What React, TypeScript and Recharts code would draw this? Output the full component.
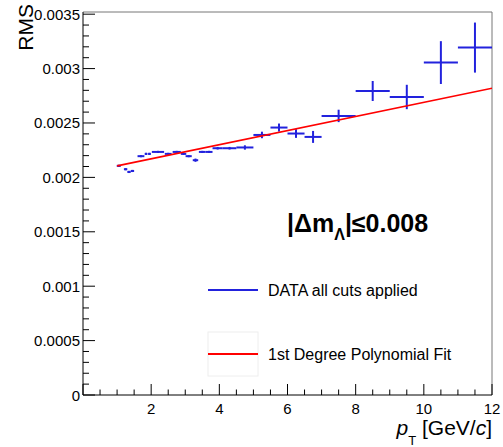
import { ComposedChart, XAxis, YAxis, Scatter, ErrorBar, Line, ReferenceLine } from "recharts";

// bin centers (GeV/c) and half widths
const ptCenters = [1.05, 1.25, 1.35, 1.45, 1.7, 1.85, 1.95, 2.2, 2.5, 2.75, 2.95, 3.1, 3.3, 3.5, 3.7, 3.95, 4.3, 4.75, 5.25, 5.75, 6.25, 6.75, 7.5, 8.5, 9.5, 10.5, 11.5];
const ptHalfWidths = [0.06, 0.05, 0.05, 0.05, 0.1, 0.04, 0.04, 0.18, 0.1, 0.12, 0.08, 0.09, 0.08, 0.1, 0.1, 0.15, 0.2, 0.25, 0.25, 0.25, 0.25, 0.25, 0.5, 0.5, 0.5, 0.5, 0.5];
const rmsValues = [0.002106, 0.002075, 0.00205, 0.002059, 0.002195, 0.002216, 0.002216, 0.002234, 0.002216, 0.002234, 0.002216, 0.002195, 0.002158, 0.002234, 0.002234, 0.002268, 0.002268, 0.002275, 0.00239, 0.002458, 0.002403, 0.002372, 0.002565, 0.002794, 0.002739, 0.003055, 0.003193];
const rmsErrors = [0.00001, 0.00001, 0.00001, 0.00001, 0.00001, 0.00001, 0.00001, 0.00001, 0.00001, 0.00001, 0.00001, 0.00001, 0.000015, 0.00001, 0.00001, 0.000012, 0.000012, 0.00002, 0.00003, 0.000037, 0.00004, 0.000055, 0.000057, 0.000092, 0.000112, 0.000197, 0.00023];

// 1st degree polynomial fit, drawn from 1 to 12 GeV/c
const fitPt = [1, 12];
const fitRms = [0.002106, 0.002819];

const xTicks = [0, 0.5, 1, 1.5, 2, 2.5, 3, 3.5, 4, 4.5, 5, 5.5, 6, 6.5, 7, 7.5, 8, 8.5, 9, 9.5, 10, 10.5, 11, 11.5, 12];
const yTicks = [0, 0.0001, 0.0002, 0.0003, 0.0004, 0.0005, 0.0006, 0.0007, 0.0008, 0.0009, 0.001, 0.0011, 0.0012, 0.0013, 0.0014, 0.0015, 0.0016, 0.0017, 0.0018, 0.0019, 0.002, 0.0021, 0.0022, 0.0023, 0.0024, 0.0025, 0.0026, 0.0027, 0.0028, 0.0029, 0.003, 0.0031, 0.0032, 0.0033, 0.0034, 0.0035];
const yLabels: Record<number, string> = { 0: "0", 5: "0.0005", 10: "0.001", 15: "0.0015", 20: "0.002", 25: "0.0025", 30: "0.003", 35: "0.0035" };

const points = ptCenters.map((x, i) => ({ x, y: rmsValues[i], xerr: ptHalfWidths[i], yerr: rmsErrors[i] }));
const fitData = fitPt.map((x, i) => ({ x, y: fitRms[i] }));

const FONT = "'Liberation Sans', Arial, Helvetica, sans-serif";
const BLUE = "#2222dd";
const PLOT_BOTTOM = 395;
const PLOT_LEFT = 83;

const XTick = (props: any) => {
  const { x, payload } = props;
  const v = payload.value;
  const major = Math.abs(v / 2 - Math.round(v / 2)) < 1e-6;
  const y = PLOT_BOTTOM;
  return (
    <g>
      <line x1={x} y1={y} x2={x} y2={y - (major ? 11 : 5.5)} stroke="#000" />
      {major && v !== 0 && (
        <text x={x} y={y + 19} textAnchor="middle" fontSize={15} fontFamily={FONT} fill="#000">
          {v}
        </text>
      )}
    </g>
  );
};

const YTick = (props: any) => {
  const { y, payload } = props;
  const x = PLOT_LEFT;
  const idx = Math.round(payload.value / 0.0001);
  const major = idx % 5 === 0;
  return (
    <g>
      <line x1={x} y1={y} x2={x + (major ? 12 : 6)} y2={y} stroke="#000" />
      {major && (
        <text x={x - 3} y={y + 5.5} textAnchor="end" fontSize={15} fontFamily={FONT} fill="#000">
          {yLabels[idx]}
        </text>
      )}
    </g>
  );
};

export default function App() {
  return (
    <div style={{ position: "absolute", left: 0, top: 0, width: 503, height: 447, background: "#fff" }}>
      <ComposedChart width={503} height={447} margin={{ top: 12, right: 11, bottom: 50, left: 80 }}>
        <XAxis
          dataKey="x"
          type="number"
          domain={[0, 12]}
          ticks={xTicks}
          interval={0}
          height={2}
          tickSize={0}
          tickMargin={0}
          allowDataOverflow
          axisLine={{ stroke: "#000" }}
          tick={<XTick />}
        />
        <YAxis
          type="number"
          domain={[0, 0.00352]}
          ticks={yTicks}
          interval={0}
          width={3}
          tickSize={0}
          tickMargin={0}
          allowDataOverflow
          axisLine={{ stroke: "#000" }}
          tick={<YTick />}
        />
        <ReferenceLine y={0.00352} stroke="#777" />
        <ReferenceLine x={12} stroke="#777" />
        <Scatter data={points} dataKey="y" isAnimationActive={false} shape={() => <g />}>
          <ErrorBar dataKey="xerr" direction="x" width={0} stroke={BLUE} strokeWidth={2} isAnimationActive={false} />
          <ErrorBar dataKey="yerr" direction="y" width={0} stroke={BLUE} strokeWidth={2} isAnimationActive={false} />
        </Scatter>
        <Line
          data={fitData}
          dataKey="y"
          type="linear"
          stroke="#ff0000"
          strokeWidth={1.6}
          dot={false}
          isAnimationActive={false}
        />
      </ComposedChart>
      <svg width={503} height={447} style={{ position: "absolute", left: 0, top: 0, pointerEvents: "none" }}>
        <text transform="translate(33,4) rotate(-90)" textAnchor="end" fontSize={21} fontFamily={FONT} fill="#000">
          RMS
        </text>
        <text x={492} y={435} textAnchor="end" fontSize={21} fontFamily={FONT} fill="#000">
          <tspan fontStyle="italic">p</tspan>
          <tspan fontSize={13} dy={10}>T</tspan>
          <tspan dy={-10}> [GeV/</tspan>
          <tspan fontStyle="italic">c</tspan>
          <tspan>]</tspan>
        </text>
        <text x={287} y={232} fontSize={25} fontWeight="bold" fontFamily={FONT} fill="#000">
          |Δm
          <tspan fontSize={16} dy={8}>Λ</tspan>
          <tspan dy={-8}>|≤0.008</tspan>
        </text>
        <line x1={208} y1={290} x2={258} y2={290} stroke={BLUE} strokeWidth={2} />
        <text x={268} y={295.5} fontSize={16} fontFamily={FONT} fill="#000">
          DATA all cuts applied
        </text>
        <rect x={208} y={332} width={50} height={44} fill="none" stroke="#eeeeee" />
        <line x1={208} y1={354} x2={258} y2={354} stroke="#ff0000" strokeWidth={2} />
        <text x={268} y={359.5} fontSize={16} fontFamily={FONT} fill="#000">
          1st Degree Polynomial Fit
        </text>
      </svg>
    </div>
  );
}
